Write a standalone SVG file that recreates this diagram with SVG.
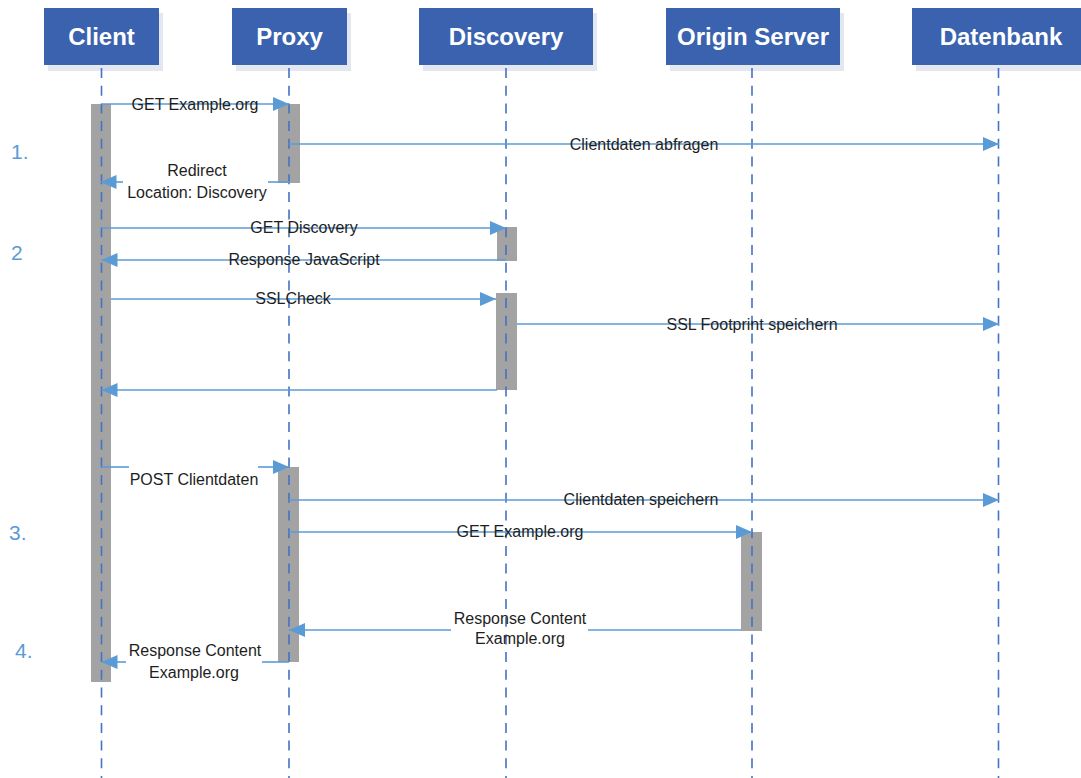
<svg xmlns="http://www.w3.org/2000/svg" width="1081" height="778" viewBox="0 0 1081 778">
  <style>
    .hdr { fill: #3A62AE; }
    .hdr-shadow { fill: #E2E7F0; }
    .hdr-text { font-family: "Liberation Sans", Arial, sans-serif; font-weight: bold; font-size: 24px; fill: #FFFFFF; text-anchor: middle; }
    .life { stroke: #4472C4; stroke-width: 1.6; stroke-dasharray: 10 7.7; fill: none; }
    .bar { fill: #A3A3A3; }
    .msg { stroke: #5B9BD5; stroke-width: 1.6; fill: none; }
    .lbl { font-family: "Liberation Sans", Arial, sans-serif; font-size: 16px; fill: #1E1E1E; text-anchor: middle; }
    .step { font-family: "Liberation Sans", Arial, sans-serif; font-size: 21px; fill: #5B9BD5; }
  </style>
  <defs>
    <marker id="arrow" viewBox="0 0 16 14" refX="16" refY="7" markerWidth="16" markerHeight="14" markerUnits="userSpaceOnUse" orient="auto">
      <path d="M0,0 L16,7 L0,14 Z" fill="#5B9BD5"/>
    </marker>
  </defs>

  <rect width="1081" height="778" fill="#FFFFFF"/>

  <!-- participants -->
  <g id="client">
    <rect class="hdr-shadow" x="48" y="13" width="115" height="58"/>
    <rect class="hdr" x="44" y="8" width="115" height="57"/>
    <text class="hdr-text" x="101.5" y="45">Client</text>
  </g>
  <g id="proxy">
    <rect class="hdr-shadow" x="236" y="13" width="115" height="58"/>
    <rect class="hdr" x="232" y="8" width="115" height="57"/>
    <text class="hdr-text" x="289.5" y="45">Proxy</text>
  </g>
  <g id="discovery">
    <rect class="hdr-shadow" x="423" y="13" width="174" height="58"/>
    <rect class="hdr" x="419" y="8" width="174" height="57"/>
    <text class="hdr-text" x="506" y="45">Discovery</text>
  </g>
  <g id="origin-server">
    <rect class="hdr-shadow" x="670" y="13" width="174" height="58"/>
    <rect class="hdr" x="666" y="8" width="174" height="57"/>
    <text class="hdr-text" x="753" y="45">Origin Server</text>
  </g>
  <g id="datenbank">
    <rect class="hdr-shadow" x="916" y="13" width="174" height="58"/>
    <rect class="hdr" x="912" y="8" width="174" height="57"/>
    <text class="hdr-text" x="1001" y="45">Datenbank</text>
  </g>

  <!-- activation bars -->
  <g id="activations">
    <rect class="bar" x="91" y="104" width="20" height="578"/>
    <rect class="bar" x="278" y="104" width="22" height="79"/>
    <rect class="bar" x="497" y="227" width="20" height="34"/>
    <rect class="bar" x="496" y="293" width="21" height="97"/>
    <rect class="bar" x="278" y="467" width="21" height="195"/>
    <rect class="bar" x="741" y="532" width="21" height="99"/>
  </g>

  <!-- lifelines -->
  <g id="lifelines">
    <line class="life" x1="101.5" y1="68" x2="101.5" y2="778"/>
    <line class="life" x1="289" y1="68" x2="289" y2="778"/>
    <line class="life" x1="506" y1="68" x2="506" y2="778"/>
    <line class="life" x1="752" y1="68" x2="752" y2="778"/>
    <line class="life" x1="998.5" y1="68" x2="998.5" y2="778"/>
  </g>

  <!-- messages -->
  <g id="connectors">
    <line class="msg" x1="101.5" y1="104" x2="289" y2="104" marker-end="url(#arrow)"/>
    <line class="msg" x1="289" y1="144" x2="999" y2="144" marker-end="url(#arrow)"/>
    <line class="msg" x1="290" y1="182" x2="268" y2="182"/>
    <line class="msg" x1="123" y1="182" x2="100.5" y2="182" marker-end="url(#arrow)"/>
    <line class="msg" x1="101.5" y1="228" x2="506" y2="228" marker-end="url(#arrow)"/>
    <line class="msg" x1="506" y1="260" x2="101.5" y2="260" marker-end="url(#arrow)"/>
    <line class="msg" x1="111" y1="299" x2="496" y2="299" marker-end="url(#arrow)"/>
    <line class="msg" x1="517" y1="324" x2="999" y2="324" marker-end="url(#arrow)"/>
    <line class="msg" x1="497" y1="390" x2="101.5" y2="390" marker-end="url(#arrow)"/>
    <line class="msg" x1="101.5" y1="467" x2="129" y2="467"/>
    <line class="msg" x1="258" y1="467" x2="289" y2="467" marker-end="url(#arrow)"/>
    <line class="msg" x1="289" y1="500" x2="999" y2="500" marker-end="url(#arrow)"/>
    <line class="msg" x1="289" y1="532" x2="752" y2="532" marker-end="url(#arrow)"/>
    <line class="msg" x1="741" y1="630" x2="588" y2="630"/>
    <line class="msg" x1="451" y1="630" x2="289" y2="630" marker-end="url(#arrow)"/>
    <line class="msg" x1="289" y1="662" x2="262" y2="662"/>
    <line class="msg" x1="126" y1="662" x2="101.5" y2="662" marker-end="url(#arrow)"/>
  </g>

  <!-- message labels -->
  <g id="labels">
    <text class="lbl" x="195" y="110">GET Example.org</text>
    <text class="lbl" x="644" y="150">Clientdaten abfragen</text>
    <text class="lbl" x="197" y="176">Redirect</text>
    <text class="lbl" x="197" y="198">Location: Discovery</text>
    <text class="lbl" x="304" y="233">GET Discovery</text>
    <text class="lbl" x="304" y="265">Response JavaScript</text>
    <text class="lbl" x="293" y="304">SSLCheck</text>
    <text class="lbl" x="752" y="330">SSL Footprint speichern</text>
    <text class="lbl" x="194" y="485">POST Clientdaten</text>
    <text class="lbl" x="641" y="505">Clientdaten speichern</text>
    <text class="lbl" x="520" y="537">GET Example.org</text>
    <text class="lbl" x="520" y="624">Response Content</text>
    <text class="lbl" x="520" y="644">Example.org</text>
    <text class="lbl" x="195" y="656">Response Content</text>
    <text class="lbl" x="194" y="678">Example.org</text>
  </g>

  <!-- step numbers -->
  <g id="steps">
    <text class="step" x="11" y="159">1.</text>
    <text class="step" x="11" y="260">2</text>
    <text class="step" x="9" y="540">3.</text>
    <text class="step" x="15" y="658">4.</text>
  </g>
</svg>
